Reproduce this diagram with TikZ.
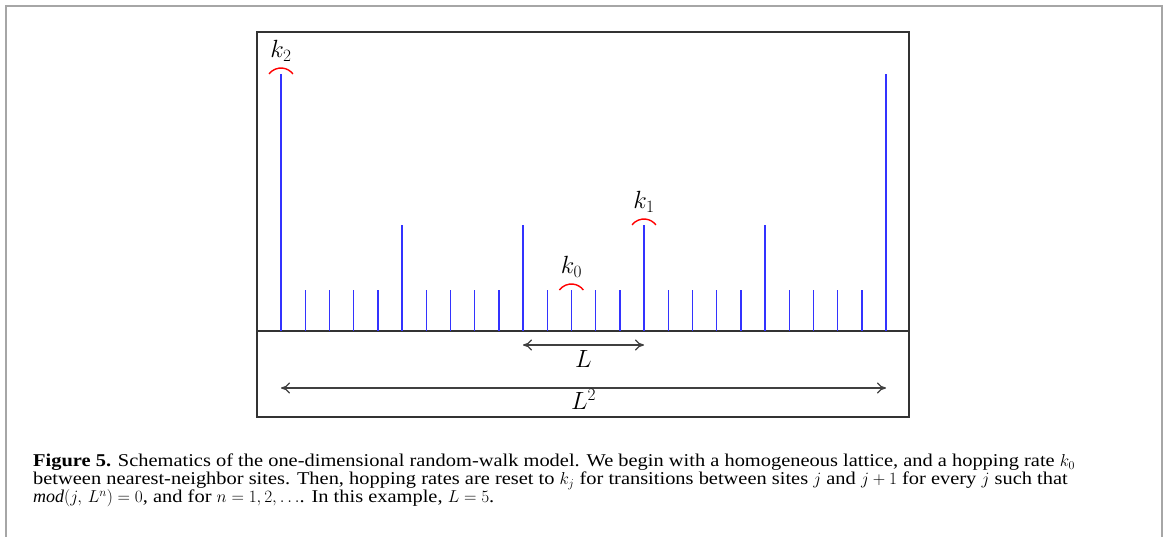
\documentclass[tikz,border=0pt]{standalone}
\usepackage{amsmath, amssymb}
\usepackage{fontspec}
\setmainfont{Liberation Serif}
\newfontfamily\capfont[FakeStretch=1.135]{Liberation Serif}
\usepackage{tikz}
\usetikzlibrary{arrows.meta, positioning, calc}

\begin{document}
\begin{tikzpicture}[x=1pt, y=1pt,
    site/.style={blue!80, line width=1.4pt},
    rate/.style={red, line width=1.4pt},
    ratelabel/.style={anchor=base, inner sep=0pt, font=\fontsize{23}{26}\selectfont},
    span/.style={{To[length=9pt,width=11pt]}-{To[length=9pt,width=11pt]}, black!75, line width=1.2pt},
    caption/.style={anchor=north west, inner sep=0pt, align=left, font=\capfont\fontsize{18}{18}\selectfont}]
    \useasboundingbox (0,0) rectangle (1168,537);
    % Frame of the figure
    \draw[gray!70, line width=2pt] (6,0) -- (6,531) -- (1162,531) -- (1162,0);

    % Box and lattice
    \draw[black!80, line width=1.6pt] (257,120) rectangle (909,505);
    \draw[black!80, line width=1.4pt] (257,206) -- (909,206);

    % Sites
    \foreach \i in {0,...,25} {
        \pgfmathsetmacro{\sx}{281+24.2*\i}
        \pgfmathsetmacro{\sy}{mod(\i,25)==0 ? 463 : (mod(\i,5)==0 ? 312 : 247)}
        \draw[site] (\sx,206) -- (\sx,\sy);
    }

    % Hopping rates
    \draw[rate] (269,463) arc[start angle=143, end angle=37, radius=15];
    \node[ratelabel] (k2) at (281,479) {$k_2$};
    \draw[rate] (632,312) arc[start angle=143, end angle=37, radius=15];
    \node[ratelabel] (k1) at (644,328) {$k_1$};
    \draw[rate] (559.4,247) arc[start angle=143, end angle=37, radius=15];
    \node[ratelabel] (k0) at (571.4,263) {$k_0$};

    % Lengths
    \coordinate (Lleft) at (523,192);
    \coordinate (Lright) at (644,192);
    \coordinate (LLleft) at (281,149);
    \coordinate (LLright) at (886,149);
    \draw[span] (Lleft) -- (Lright);
    \draw[span] (LLleft) -- (LLright);
    \node[ratelabel] (L) at (583.5,169) {$L$};
    \node[ratelabel] (L2) at (583.5,127) {$L^2$};

    % Caption
    \node[caption] (cap) at (33,83) {\textbf{Figure 5.} Schematics of the one-dimensional random-walk model. We begin with a homogeneous lattice, and a hopping rate $k_0$\\
    between nearest-neighbor sites. Then, hopping rates are reset to $k_j$ for transitions between sites $j$ and $j+1$ for every $j$ such that\\
    $\mathit{mod}(j,\,L^n)=0$, and for $n=1,2,\ldots$. In this example, $L=5$.};
\end{tikzpicture}
\end{document}
